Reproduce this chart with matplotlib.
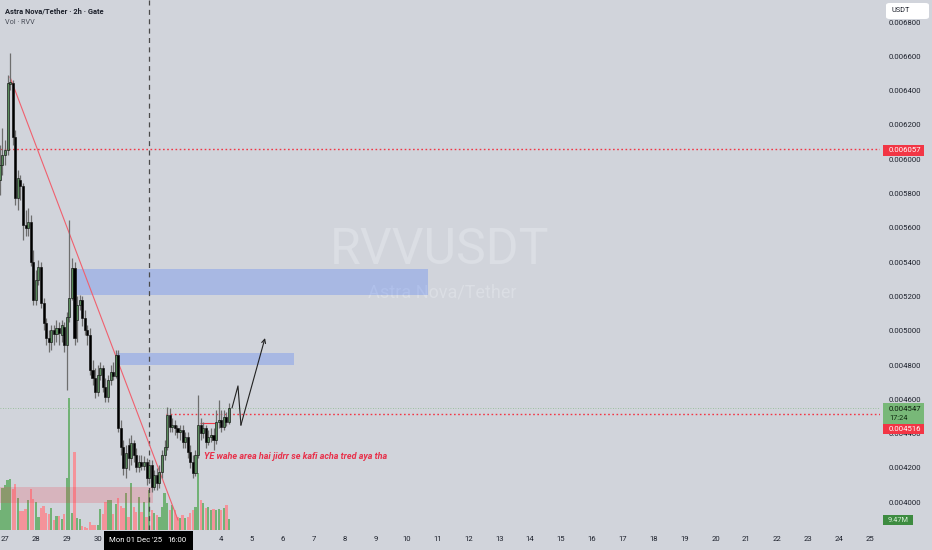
import matplotlib
matplotlib.use('Agg')
import matplotlib.pyplot as plt
import pandas as pd
from matplotlib.patches import Rectangle, FancyBboxPatch

plt.rcParams['font.family'] = ['Roboto', 'DejaVu Sans']

# ---------------- data ----------------
start_time = '2025-11-26 20:00'
opens = [0.005879, 0.005966, 0.006024, 0.006054, 0.006439, 0.006444, 0.006130, 0.005774, 0.005879, 0.005844,
         0.005617, 0.005599, 0.005634, 0.005401, 0.005179, 0.005296, 0.005371, 0.005161, 0.005045, 0.004958,
         0.004934, 0.005004, 0.004981, 0.005016, 0.004975, 0.005022, 0.004917, 0.005080, 0.005191, 0.005366,
         0.005063, 0.005150, 0.005179, 0.005074, 0.005004, 0.004975, 0.004771, 0.004725, 0.004643, 0.004742,
         0.004783, 0.004672, 0.004613, 0.004713, 0.004759, 0.004736, 0.004859, 0.004433, 0.004322, 0.004200,
         0.004334, 0.004258, 0.004346, 0.004276, 0.004206, 0.004235, 0.004211, 0.004235, 0.004142, 0.004217,
         0.004089, 0.004159, 0.004112, 0.004176, 0.004276, 0.004322, 0.004509, 0.004439, 0.004451, 0.004433,
         0.004410, 0.004421, 0.004351, 0.004381, 0.004293, 0.004235, 0.004171, 0.004276, 0.004451, 0.004404,
         0.004433, 0.004351, 0.004381, 0.004392, 0.004363, 0.004468, 0.004480, 0.004439, 0.004497, 0.004468]
highs = [0.006083, 0.006182, 0.006112, 0.006491, 0.006619, 0.006462, 0.006170, 0.005937, 0.005908, 0.005861,
         0.005704, 0.005715, 0.005675, 0.005471, 0.005354, 0.005412, 0.005401, 0.005191, 0.005074, 0.005004,
         0.005034, 0.005034, 0.005063, 0.005051, 0.005063, 0.005051, 0.005109, 0.005646, 0.005424, 0.005401,
         0.005202, 0.005208, 0.005202, 0.005121, 0.005034, 0.005016, 0.004829, 0.004783, 0.004800, 0.004818,
         0.004800, 0.004725, 0.004742, 0.004800, 0.004818, 0.004888, 0.004888, 0.004480, 0.004363, 0.004334,
         0.004375, 0.004392, 0.004363, 0.004316, 0.004276, 0.004276, 0.004270, 0.004258, 0.004246, 0.004246,
         0.004188, 0.004200, 0.004217, 0.004305, 0.004363, 0.004555, 0.004550, 0.004491, 0.004480, 0.004451,
         0.004451, 0.004451, 0.004410, 0.004410, 0.004334, 0.004276, 0.004305, 0.004625, 0.004491, 0.004468,
         0.004451, 0.004421, 0.004433, 0.004433, 0.004538, 0.004596, 0.004538, 0.004538, 0.004526, 0.004579]
lows = [0.005791, 0.005908, 0.005966, 0.006024, 0.006404, 0.006083, 0.005733, 0.005704, 0.005762, 0.005529,
        0.005552, 0.005552, 0.005377, 0.005150, 0.005150, 0.005266, 0.005132, 0.005004, 0.004917, 0.004876,
        0.004888, 0.004917, 0.004934, 0.004917, 0.004934, 0.004876, 0.004655, 0.005051, 0.005179, 0.004917,
        0.004934, 0.005121, 0.005027, 0.004975, 0.004917, 0.004742, 0.004684, 0.004608, 0.004620, 0.004713,
        0.004643, 0.004585, 0.004585, 0.004684, 0.004713, 0.004725, 0.004410, 0.004276, 0.004159, 0.004142,
        0.004188, 0.004217, 0.004235, 0.004176, 0.004176, 0.004188, 0.004188, 0.004101, 0.004118, 0.004060,
        0.004072, 0.004072, 0.004083, 0.004142, 0.004246, 0.004305, 0.004410, 0.004410, 0.004392, 0.004375,
        0.004363, 0.004316, 0.004316, 0.004258, 0.004200, 0.004142, 0.004153, 0.004258, 0.004363, 0.004375,
        0.004316, 0.004334, 0.004351, 0.004305, 0.004340, 0.004433, 0.004410, 0.004421, 0.004445, 0.004456]
closes = [0.005966, 0.006024, 0.006054, 0.006444, 0.006450, 0.006130, 0.005774, 0.005891, 0.005844, 0.005617,
          0.005599, 0.005634, 0.005401, 0.005179, 0.005296, 0.005371, 0.005161, 0.005045, 0.004958, 0.004934,
          0.005004, 0.004981, 0.005016, 0.004987, 0.005034, 0.004917, 0.005080, 0.005191, 0.005366, 0.004958,
          0.005150, 0.005179, 0.005074, 0.005004, 0.004975, 0.004771, 0.004725, 0.004643, 0.004742, 0.004783,
          0.004672, 0.004613, 0.004713, 0.004759, 0.004736, 0.004859, 0.004433, 0.004322, 0.004200, 0.004287,
          0.004258, 0.004346, 0.004276, 0.004206, 0.004235, 0.004211, 0.004235, 0.004142, 0.004217, 0.004089,
          0.004159, 0.004112, 0.004176, 0.004276, 0.004322, 0.004509, 0.004439, 0.004451, 0.004433, 0.004410,
          0.004421, 0.004351, 0.004381, 0.004293, 0.004235, 0.004171, 0.004276, 0.004451, 0.004404, 0.004433,
          0.004351, 0.004381, 0.004392, 0.004363, 0.004468, 0.004480, 0.004439, 0.004497, 0.004468, 0.004547]
volumes_m = [17.2, 36.1, 38.7, 43.0, 43.9, 35.3, 39.6, 27.5, 16.3, 16.3,
             18.1, 25.8, 35.3, 26.7, 24.1, 11.2, 18.9, 20.6, 14.6, 13.8,
             18.9, 8.6, 12.0, 12.0, 9.5, 13.8, 44.7, 113.5, 14.6, 67.1,
             10.3, 9.5, 3.4, 2.6, 1.7, 6.9, 4.3, 4.3, 4.3, 18.1,
             13.8, 24.1, 25.8, 25.8, 13.8, 22.4, 27.5, 20.6, 18.9, 31.8,
             11.2, 40.4, 19.8, 15.5, 28.4, 15.5, 24.1, 11.2, 34.4, 17.2,
             14.6, 12.9, 11.2, 19.8, 31.8, 23.2, 17.2, 21.5, 17.2, 11.2,
             10.3, 12.9, 10.3, 11.2, 14.6, 17.2, 19.8, 49.0, 25.8, 23.2,
             18.9, 19.8, 17.2, 18.1, 17.2, 18.1, 17.2, 18.9, 21.5, 9.47]

price_ticks = [0.0040, 0.0042, 0.0044, 0.0046, 0.0048, 0.0050, 0.0052, 0.0054,
               0.0056, 0.0058, 0.0060, 0.0062, 0.0064, 0.0066, 0.0068]
day_start, day_end = '2025-11-27', '2025-12-25'
hidden_days = [1, 2, 3]   # covered by the crosshair date label

level_high = 0.006057
level_mid = 0.004516
last_price = 0.004547
zone1 = (0.005208, 0.005360)
zone2 = (0.004800, 0.004870)
vol_zone = (0.003995, 0.004089)
trend_pts = ([3.9, 134.4], [0.006479, 0.003896])
arrow_x = [176.4, 181.0, 183.3, 202.0]
arrow_y = [0.004550, 0.004678, 0.004450, 0.004957]

# ---------------- style ----------------
BG = '#d1d4db'
UP_BODY = '#5a8c5c'
DOWN_BODY = '#000000'
WICK = '#6e6e6e'
VOL_UP = '#72b276'
VOL_DN = '#f4939a'
RED = '#f23645'

W, H = 932, 550
def fx(px):
    return px / W
def fy(py):
    return 1 - py / H

ref = pd.Timestamp('2025-11-27 00:00')
times = pd.date_range(start_time, periods=len(closes), freq='2h')
x = ((times - ref) / pd.Timedelta(hours=1)).to_numpy()
days = pd.date_range(day_start, day_end, freq='D')
day_x = ((days - ref) / pd.Timedelta(hours=1)).to_numpy()
day_labels = ['' if d.day in hidden_days else str(d.day) for d in days]

fig = plt.figure(figsize=(W / 100, H / 100), dpi=100, facecolor=BG)
ax = fig.add_axes([0, 20 / H, 880 / W, 530 / H])
vax = ax.twinx()
ax.set_zorder(vax.get_zorder() + 1)
ax.patch.set_visible(False)
vax.patch.set_visible(True)
vax.patch.set_facecolor(BG)

xmin, xmax = -3.88, 679.8
ax.set_xlim(xmin, xmax)
ax.set_ylim(0.0038379, 0.0069283)
vax.set_ylim(0, 455.8)

# volume
vcol = [VOL_UP if c >= o else VOL_DN for o, c in zip(opens, closes)]
vax.bar(x, volumes_m, width=1.75, color=vcol, linewidth=0)
vax.set_yticks([])

# watermark
ax.text(337.9, 0.005471, 'RVVUSDT', fontsize=36, color='#dbdee4', ha='center', va='center', zorder=0)
ax.text(339.5, 0.005220, 'Astra Nova/Tether', fontsize=13, color='#dbdee4', ha='center', va='center', zorder=0)

# zones
ax.add_patch(Rectangle((55.2, zone1[0]), 328.6 - 55.2, zone1[1] - zone1[0], facecolor='#2962ff', alpha=0.24, lw=0, zorder=1))
ax.add_patch(Rectangle((87.0, zone2[0]), 224.5 - 87.0, zone2[1] - zone2[0], facecolor='#2962ff', alpha=0.24, lw=0, zorder=1))
ax.add_patch(Rectangle((xmin, vol_zone[0]), 114.7 - xmin, vol_zone[1] - vol_zone[0], facecolor=RED, alpha=0.2, lw=0, zorder=1))

# horizontal levels
ax.axhline(level_high, color=RED, ls=(0, (1.2, 1.8)), lw=1.0, zorder=2)
ax.hlines(level_mid, 125, xmax, color=RED, ls=(0, (1.2, 1.8)), lw=1.0, zorder=2)
ax.axhline(last_price, color='#8ab98a', ls=(0, (1, 2)), lw=0.6, zorder=2)
ax.hlines(0.004462, 151.5, 163.1, color=RED, lw=0.8, zorder=2)

# crosshair
ax.axvline(112, color='#4a4a4a', ls=(0, (4, 3.5)), lw=0.9, zorder=2)

# trend line
ax.plot(trend_pts[0], trend_pts[1], color='#f0606e', lw=0.8, zorder=3)

# candles
ax.vlines(x, lows, highs, color=WICK, lw=0.9, zorder=4)
bcol = [UP_BODY if c >= o else DOWN_BODY for o, c in zip(opens, closes)]
heights = [c - o if abs(c - o) > 0.000004 else 0.000004 for o, c in zip(opens, closes)]
ax.bar(x, heights, bottom=opens, width=1.6, color=bcol, edgecolor='#111111', linewidth=0.45, zorder=5)

# projected path
ax.plot(arrow_x[:3], arrow_y[:3], color='#222222', lw=0.8, zorder=6)
ax.annotate('', xy=(arrow_x[3], arrow_y[3]), xytext=(arrow_x[2], arrow_y[2]),
            arrowprops=dict(arrowstyle='->', lw=0.8, color='#222222', shrinkA=0, shrinkB=0, mutation_scale=7),
            zorder=6)

# note
ax.text(154.6, 0.004264, 'YE wahe area hai jidrr se kafi acha tred aya tha', fontsize=6.5,
        style='italic', weight='bold', color='#e8304a', ha='left', va='center', zorder=6)

# axes
for a in (ax, vax):
    for s in a.spines.values():
        s.set_visible(False)
ax.yaxis.tick_right()
ax.set_yticks(price_ticks)
ax.set_yticklabels([f'{p:.6f}' for p in price_ticks])
ax.tick_params(axis='y', length=0, pad=6.5, labelsize=5.6, labelcolor='#1e222d')
ax.set_xticks(day_x)
ax.set_xticklabels(day_labels)
ax.tick_params(axis='x', length=0, pad=4.5, labelsize=5.6, labelcolor='#1e222d')

# header
fig.text(fx(5), fy(11), 'Astra Nova/Tether · 2h · Gate', fontsize=5.4, weight='bold', color='#1e222d', va='center')
fig.text(fx(5), fy(22), 'Vol · RVV', fontsize=5.2, color='#4a4e59', va='center')

def box(x0, y0, x1, y1, color, rounded=False):
    if rounded:
        p = FancyBboxPatch((fx(x0), fy(y1)), fx(x1 - x0), (y1 - y0) / H,
                           boxstyle='round,pad=0,rounding_size=0.004', transform=fig.transFigure,
                           facecolor=color, edgecolor='none', zorder=5)
    else:
        p = Rectangle((fx(x0), fy(y1)), fx(x1 - x0), (y1 - y0) / H, transform=fig.transFigure,
                      facecolor=color, edgecolor='none', zorder=5)
    fig.add_artist(p)

box(886, 3, 929, 19, 'white', rounded=True)
fig.text(fx(891), fy(11), 'USDT', fontsize=5.3, color='#1e222d', va='center', zorder=6)

box(883, 145, 924, 156, RED)
fig.text(fx(889), fy(150.5), f'{level_high:.6f}', fontsize=5.6, color='white', va='center', zorder=6)

box(883, 403, 924, 424, '#78b878')
fig.text(fx(889), fy(409), f'{last_price:.6f}', fontsize=5.6, color='#0f1f0f', va='center', zorder=6)
fig.text(fx(889), fy(418), '17:24', fontsize=5.3, color='#0f2a0f', va='center', zorder=6)

box(883, 424, 924, 434, RED)
fig.text(fx(889), fy(429), f'{level_mid:.6f}', fontsize=5.6, color='white', va='center', zorder=6)

box(883, 515, 913, 525, '#3d8b40')
fig.text(fx(898), fy(520), f'{volumes_m[-1]:.2f}M', fontsize=5.3, color='#d8f0d8', va='center', ha='center', zorder=6)

box(104, 531, 193, 550, 'black')
fig.text(fx(135.5), fy(540.5), "Mon 01 Dec '25", fontsize=5.6, color='white', va='center', ha='center', zorder=6)
fig.text(fx(177.5), fy(540.5), '16:00', fontsize=5.6, color='white', va='center', ha='center', zorder=6)

fig.savefig('out.png', dpi=100, facecolor=BG)
